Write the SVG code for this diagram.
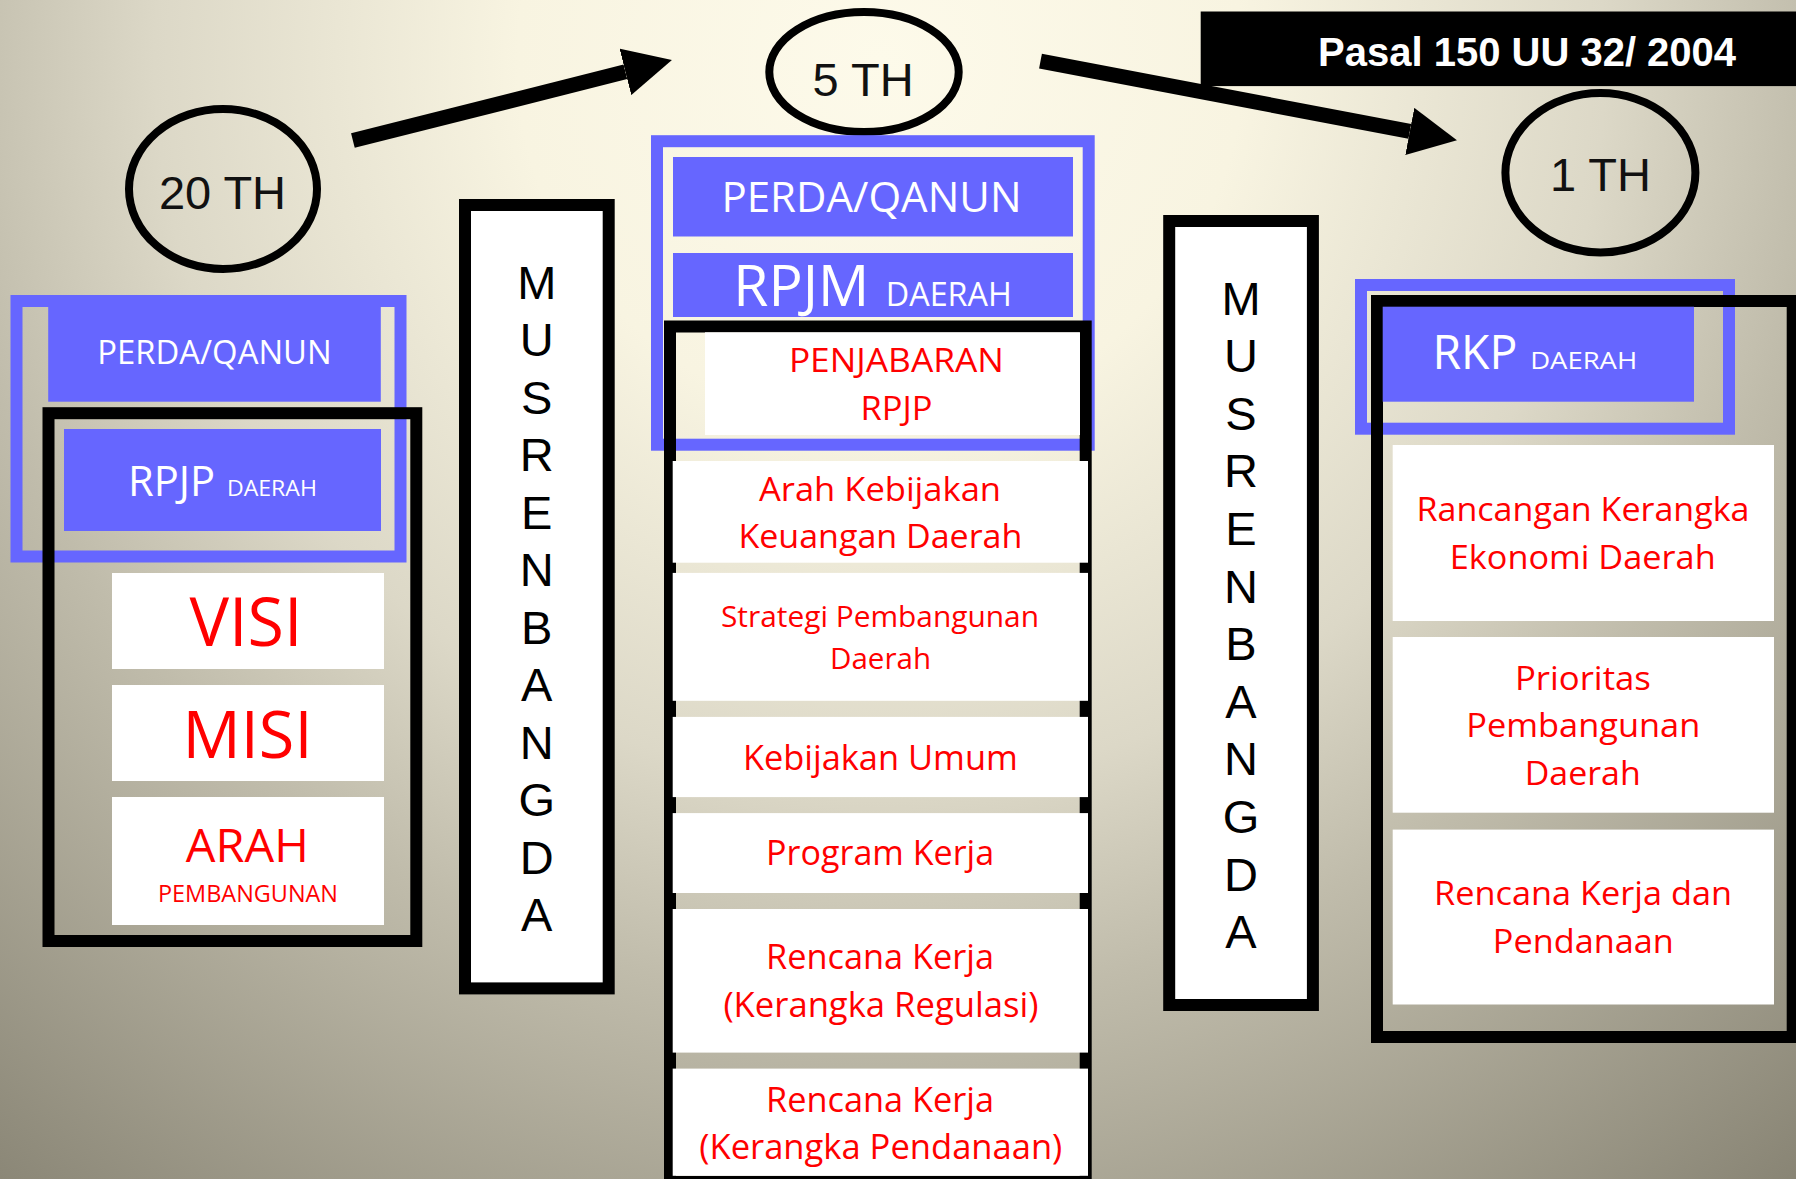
<svg xmlns="http://www.w3.org/2000/svg" width="1796" height="1179" viewBox="0 0 1796 1179">
  <defs>
    <radialGradient id="bg" gradientUnits="userSpaceOnUse" cx="880" cy="60" r="1450">
      <stop offset="0" stop-color="#fdfaea"/>
      <stop offset="0.25" stop-color="#f8f4e1"/>
      <stop offset="0.5" stop-color="#dcd8c7"/>
      <stop offset="0.65" stop-color="#c0bcab"/>
      <stop offset="1" stop-color="#888474"/>
    </radialGradient>
    <marker id="head" viewBox="0 0 48 48" markerWidth="48" markerHeight="48" markerUnits="userSpaceOnUse" refX="0" refY="24" orient="auto">
      <path d="M0,0 L48,24 L0,48 z" fill="#000"/>
    </marker>
    <style>
      .blueframe { fill: none; stroke: #6666ff; stroke-width: 12; }
      .blackframe { fill: none; stroke: #000; stroke-width: 12; }
      .bluebox { fill: #6666ff; }
      .whitebox { fill: #fff; }
      .ring { fill: none; stroke: #000; stroke-width: 8; }
      .arrow { stroke: #000; stroke-width: 15; fill: none; marker-end: url(#head); }
      .col { fill: #fff; stroke: #000; stroke-width: 12; }
      .th { font-family: "Liberation Sans", Arial, sans-serif; font-size: 47px; fill: #111; text-anchor: middle; }
      .letter { font-family: "Liberation Sans", Arial, sans-serif; font-size: 47px; fill: #000; text-anchor: middle; }
      .wt { font-family: "Open Sans", "Noto Sans", sans-serif; fill: #fff; text-anchor: middle; }
      .rt { font-family: "Open Sans", "Noto Sans", sans-serif; fill: #ff0000; text-anchor: middle; }
      .law { font-family: "Liberation Sans", Arial, sans-serif; font-weight: bold; font-size: 40px; fill: #fff; }
    </style>
  </defs>

  <rect x="0" y="0" width="1796" height="1179" fill="url(#bg)"/>

  <!-- arrows between the planning horizons -->
  <g id="connectors">
    <line class="arrow" x1="352.9" y1="140.5" x2="625.4" y2="71.8"/>
    <line class="arrow" x1="1040.5" y1="61.2" x2="1409.8" y2="131.4"/>
  </g>

  <!-- 20-year plan -->
  <g id="label-20th">
    <ellipse class="ring" cx="223" cy="189" rx="94" ry="80"/>
    <text class="th" x="222.5" y="208.6">20 TH</text>
  </g>
  <g id="rpjp-frame">
    <rect class="blueframe" x="16.5" y="301" width="384" height="255.5"/>
  </g>
  <g id="rpjp-perda">
    <rect class="bluebox" x="48.2" y="307" width="332.6" height="94.7"/>
    <text class="wt" x="214.5" y="363.5" font-size="32.5" textLength="234.5" lengthAdjust="spacingAndGlyphs">PERDA/QANUN</text>
  </g>
  <g id="rpjp-content-frame">
    <rect class="blackframe" x="48.5" y="413.2" width="367.8" height="527.8"/>
  </g>
  <g id="rpjp-daerah">
    <rect class="bluebox" x="64" y="429" width="317" height="102"/>
    <text class="wt" x="171.5" y="495.6" font-size="41.3" textLength="87" lengthAdjust="spacingAndGlyphs">RPJP</text>
    <text class="wt" x="271.9" y="495.6" font-size="21.5" textLength="90" lengthAdjust="spacingAndGlyphs">DAERAH</text>
  </g>
  <g id="rpjp-visi">
    <rect class="whitebox" x="112" y="573" width="272" height="96"/>
    <text class="rt" x="246" y="646.3" font-size="67" textLength="113" lengthAdjust="spacingAndGlyphs">VISI</text>
  </g>
  <g id="rpjp-misi">
    <rect class="whitebox" x="112" y="685" width="272" height="96"/>
    <text class="rt" x="247.5" y="757.8" font-size="66" textLength="130" lengthAdjust="spacingAndGlyphs">MISI</text>
  </g>
  <g id="rpjp-arah">
    <rect class="whitebox" x="112" y="797" width="272" height="128"/>
    <text class="rt" x="247.3" y="862" font-size="45.5" textLength="123" lengthAdjust="spacingAndGlyphs">ARAH</text>
    <text class="rt" x="248" y="901.8" font-size="23.5" textLength="180" lengthAdjust="spacingAndGlyphs">PEMBANGUNAN</text>
  </g>

  <!-- forum column, left -->
  <g id="musrenbangda-1">
    <rect class="col" x="465" y="205" width="143.7" height="783.4"/>
    <text class="letter" x="536.8" y="298.5">M</text>
    <text class="letter" x="536.8" y="356">U</text>
    <text class="letter" x="536.8" y="413.5">S</text>
    <text class="letter" x="536.8" y="471">R</text>
    <text class="letter" x="536.8" y="528.5">E</text>
    <text class="letter" x="536.8" y="586">N</text>
    <text class="letter" x="536.8" y="643.5">B</text>
    <text class="letter" x="536.8" y="701">A</text>
    <text class="letter" x="536.8" y="758.5">N</text>
    <text class="letter" x="536.8" y="816">G</text>
    <text class="letter" x="536.8" y="873.5">D</text>
    <text class="letter" x="536.8" y="931">A</text>
  </g>

  <!-- 5-year plan -->
  <g id="label-5th">
    <ellipse class="ring" cx="864" cy="72" rx="94.7" ry="60"/>
    <text class="th" x="863.1" y="95.7">5 TH</text>
  </g>
  <g id="rpjm-frame">
    <rect class="blueframe" x="657" y="141.2" width="431.7" height="303.5"/>
  </g>
  <g id="rpjm-perda">
    <rect class="bluebox" x="673" y="157" width="400" height="79.5"/>
    <text class="wt" x="871.5" y="212.4" font-size="41.3" textLength="300" lengthAdjust="spacingAndGlyphs">PERDA/QANUN</text>
  </g>
  <g id="rpjm-daerah">
    <rect class="bluebox" x="673" y="253" width="400" height="64"/>
    <text class="wt" x="801.3" y="306.1" font-size="56.3" textLength="136" lengthAdjust="spacingAndGlyphs">RPJM</text>
    <text class="wt" x="948.8" y="306.1" font-size="32.2" textLength="126" lengthAdjust="spacingAndGlyphs">DAERAH</text>
  </g>
  <g id="rpjm-content-frame">
    <rect class="blackframe" x="670" y="326.5" width="415.7" height="855.5"/>
  </g>
  <g id="rpjm-penjabaran">
    <rect class="whitebox" x="705" y="332.3" width="375" height="102.7"/>
    <text class="rt" x="896.4" y="372" font-size="33.2" textLength="215" lengthAdjust="spacingAndGlyphs">PENJABARAN</text>
    <text class="rt" x="896.5" y="419.8" font-size="33.2" textLength="72" lengthAdjust="spacingAndGlyphs">RPJP</text>
  </g>
  <g id="rpjm-arah-kebijakan">
    <rect class="whitebox" x="672.7" y="461" width="415.3" height="101.7"/>
    <text class="rt" x="880" y="500.5" font-size="33.6" textLength="242" lengthAdjust="spacingAndGlyphs">Arah Kebijakan</text>
    <text class="rt" x="880.4" y="548" font-size="33.6" textLength="284" lengthAdjust="spacingAndGlyphs">Keuangan Daerah</text>
  </g>
  <g id="rpjm-strategi">
    <rect class="whitebox" x="672.7" y="572.9" width="415.3" height="127.9"/>
    <text class="rt" x="880" y="627" font-size="29.3" textLength="318" lengthAdjust="spacingAndGlyphs">Strategi Pembangunan</text>
    <text class="rt" x="880.5" y="668.7" font-size="29.3" textLength="101" lengthAdjust="spacingAndGlyphs">Daerah</text>
  </g>
  <g id="rpjm-kebijakan-umum">
    <rect class="whitebox" x="672.7" y="716.9" width="415.3" height="80.2"/>
    <text class="rt" x="880.4" y="769.8" font-size="35" textLength="275" lengthAdjust="spacingAndGlyphs">Kebijakan Umum</text>
  </g>
  <g id="rpjm-program-kerja">
    <rect class="whitebox" x="672.7" y="813.1" width="415.3" height="79.9"/>
    <text class="rt" x="880.1" y="864.9" font-size="35" textLength="228" lengthAdjust="spacingAndGlyphs">Program Kerja</text>
  </g>
  <g id="rpjm-regulasi">
    <rect class="whitebox" x="672.7" y="909" width="415.3" height="143.6"/>
    <text class="rt" x="880.1" y="969.2" font-size="35" textLength="228" lengthAdjust="spacingAndGlyphs">Rencana Kerja</text>
    <text class="rt" x="880.9" y="1017.3" font-size="35" textLength="315" lengthAdjust="spacingAndGlyphs">(Kerangka Regulasi)</text>
  </g>
  <g id="rpjm-pendanaan">
    <rect class="whitebox" x="672.7" y="1068.6" width="415.3" height="107.2"/>
    <text class="rt" x="880.1" y="1111.6" font-size="35" textLength="228" lengthAdjust="spacingAndGlyphs">Rencana Kerja</text>
    <text class="rt" x="880.8" y="1158.9" font-size="35" textLength="363" lengthAdjust="spacingAndGlyphs">(Kerangka Pendanaan)</text>
  </g>

  <!-- forum column, right -->
  <g id="musrenbangda-2">
    <rect class="col" x="1169.2" y="221" width="143.7" height="784"/>
    <text class="letter" x="1241" y="314.6">M</text>
    <text class="letter" x="1241" y="372.2">U</text>
    <text class="letter" x="1241" y="429.8">S</text>
    <text class="letter" x="1241" y="487.4">R</text>
    <text class="letter" x="1241" y="545">E</text>
    <text class="letter" x="1241" y="602.6">N</text>
    <text class="letter" x="1241" y="660.2">B</text>
    <text class="letter" x="1241" y="717.8">A</text>
    <text class="letter" x="1241" y="775.4">N</text>
    <text class="letter" x="1241" y="833">G</text>
    <text class="letter" x="1241" y="890.6">D</text>
    <text class="letter" x="1241" y="948.2">A</text>
  </g>

  <!-- legal basis banner -->
  <g id="legal-basis">
    <rect x="1200.7" y="11.5" width="600" height="74.6" fill="#000"/>
    <text class="law" x="1318" y="65.8">Pasal 150 UU 32/ 2004</text>
  </g>

  <!-- 1-year plan -->
  <g id="label-1th">
    <ellipse class="ring" cx="1600.4" cy="172.8" rx="95" ry="79.7"/>
    <text class="th" x="1600.5" y="191.3">1 TH</text>
  </g>
  <g id="rkp-frame">
    <rect class="blueframe" x="1361" y="285" width="368" height="143.7"/>
  </g>
  <g id="rkp-content-frame">
    <rect class="blackframe" x="1377" y="301" width="415.7" height="736"/>
  </g>
  <g id="rkp-daerah">
    <rect class="bluebox" x="1382.7" y="306.7" width="311.3" height="95"/>
    <text class="wt" x="1474.9" y="369.3" font-size="46.6" textLength="85" lengthAdjust="spacingAndGlyphs">RKP</text>
    <text class="wt" x="1583.7" y="369.3" font-size="24.1" textLength="107" lengthAdjust="spacingAndGlyphs">DAERAH</text>
  </g>
  <g id="rkp-kerangka-ekonomi">
    <rect class="whitebox" x="1392.7" y="445" width="381.3" height="176"/>
    <text class="rt" x="1583" y="521.2" font-size="33.2" textLength="333" lengthAdjust="spacingAndGlyphs">Rancangan Kerangka</text>
    <text class="rt" x="1582.7" y="569.1" font-size="33.2" textLength="266" lengthAdjust="spacingAndGlyphs">Ekonomi Daerah</text>
  </g>
  <g id="rkp-prioritas">
    <rect class="whitebox" x="1392.7" y="637" width="381.3" height="175.7"/>
    <text class="rt" x="1582.9" y="690.4" font-size="33.2" textLength="136" lengthAdjust="spacingAndGlyphs">Prioritas</text>
    <text class="rt" x="1583.3" y="737.3" font-size="33.2" textLength="234" lengthAdjust="spacingAndGlyphs">Pembangunan</text>
    <text class="rt" x="1582.7" y="784.7" font-size="33.2" textLength="116" lengthAdjust="spacingAndGlyphs">Daerah</text>
  </g>
  <g id="rkp-rencana-kerja">
    <rect class="whitebox" x="1392.7" y="829.6" width="381.3" height="174.9"/>
    <text class="rt" x="1583" y="905" font-size="33.2" textLength="298" lengthAdjust="spacingAndGlyphs">Rencana Kerja dan</text>
    <text class="rt" x="1583.3" y="953.1" font-size="33.2" textLength="181" lengthAdjust="spacingAndGlyphs">Pendanaan</text>
  </g>
</svg>
